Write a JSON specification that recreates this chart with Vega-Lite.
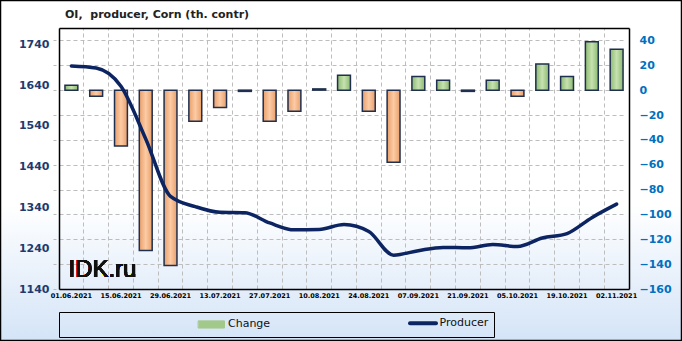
{
  "$schema": "https://vega.github.io/schema/vega-lite/v6.json",
  "width": 682,
  "height": 341,
  "autosize": {"type": "none"},
  "padding": 0,
  "background": "#ffffff",
  "config": {
    "view": {
      "stroke": "#000000",
      "strokeWidth": 2.5,
      "fill": {"gradient": "linear", "x1": 0, "y1": 0, "x2": 0, "y2": 1,
        "stops": [{"offset": 0, "color": "#ffffff"}, {"offset": 0.6, "color": "#ffffff"}, {"offset": 1, "color": "#d4e4f7"}]}
    },
    "font": "DejaVu Sans"
  },
  "title": {
    "text": "OI,\u00a0 producer, Corn (th. contr)",
    "anchor": "start",
    "frame": "group",
    "dx": 65,
    "offset": -20,
    "font": "DejaVu Sans",
    "fontSize": 11,
    "fontWeight": "bold",
    "color": "#222222"
  },
  "data": {
    "values": [
      {"date": "01.06.2021", "Change": 4, "Producer": 1687},
      {"date": "08.06.2021", "Change": -5, "Producer": 1682},
      {"date": "15.06.2021", "Change": -45, "Producer": 1637},
      {"date": "22.06.2021", "Change": -129, "Producer": 1508},
      {"date": "29.06.2021", "Change": -141, "Producer": 1367},
      {"date": "06.07.2021", "Change": -25, "Producer": 1342},
      {"date": "13.07.2021", "Change": -14, "Producer": 1328},
      {"date": "20.07.2021", "Change": -1, "Producer": 1327},
      {"date": "27.07.2021", "Change": -25, "Producer": 1302},
      {"date": "03.08.2021", "Change": -17, "Producer": 1285},
      {"date": "10.08.2021", "Change": 1, "Producer": 1286},
      {"date": "17.08.2021", "Change": 12, "Producer": 1298},
      {"date": "24.08.2021", "Change": -17, "Producer": 1281},
      {"date": "31.08.2021", "Change": -58, "Producer": 1223},
      {"date": "07.09.2021", "Change": 11, "Producer": 1234},
      {"date": "14.09.2021", "Change": 8, "Producer": 1242},
      {"date": "21.09.2021", "Change": -1, "Producer": 1241},
      {"date": "28.09.2021", "Change": 8, "Producer": 1249},
      {"date": "05.10.2021", "Change": -5, "Producer": 1244},
      {"date": "12.10.2021", "Change": 21, "Producer": 1265},
      {"date": "19.10.2021", "Change": 11, "Producer": 1276},
      {"date": "26.10.2021", "Change": 39, "Producer": 1315},
      {"date": "02.11.2021", "Change": 33, "Producer": 1348}
    ]
  },
  "layer": [
    {
      "mark": {"type": "text", "align": "left", "baseline": "alphabetic", "dx": -3, "font": "Liberation Sans", "fontSize": 24, "color": "#111111"},
      "encoding": {
        "x": {"datum": "01.06.2021", "type": "ordinal",
          "scale": {"type": "band", "domain": ["01.06.2021", "08.06.2021", "15.06.2021", "22.06.2021", "29.06.2021", "06.07.2021", "13.07.2021", "20.07.2021", "27.07.2021", "03.08.2021", "10.08.2021", "17.08.2021", "24.08.2021", "31.08.2021", "07.09.2021", "14.09.2021", "21.09.2021", "28.09.2021", "05.10.2021", "12.10.2021", "19.10.2021", "26.10.2021", "02.11.2021"],
            "range": [59, 629], "paddingInner": 0, "paddingOuter": 0},
          "axis": {
            "orient": "top", "offset": -28, "title": null, "labels": false, "ticks": false,
            "domain": true, "domainColor": "#000000", "domainWidth": 1.5,
            "grid": true, "bandPosition": 0, "gridDash": [4, 3], "gridColor": "#bdbdbd", "gridWidth": 1
          }
        },
        "y": {"datum": 1170, "type": "quantitative", "axis": null,
          "scale": {"domain": [1140, 1780], "range": [289, 28], "nice": false, "zero": false}},
        "text": {"value": "IDK.ru"}
      }
    },
    {
      "mark": {"type": "bar", "stroke": "#1f2f4f", "strokeWidth": 1.5},
      "encoding": {
        "x": {
          "field": "date", "type": "ordinal", "sort": null,
          "scale": {"range": [59, 629], "paddingInner": 0.48, "paddingOuter": 0.24},
          "axis": {
            "orient": "bottom", "offset": -52, "title": null,
            "values": ["01.06.2021", "15.06.2021", "29.06.2021", "13.07.2021", "27.07.2021", "10.08.2021", "24.08.2021", "07.09.2021", "21.09.2021", "05.10.2021", "19.10.2021", "02.11.2021"],
            "grid": false, "ticks": false, "domain": true, "domainColor": "#000000", "domainWidth": 1.5,
            "labelAngle": 0, "labelPadding": 3, "labelFont": "DejaVu Sans", "labelFontSize": 6.5,
            "labelFontWeight": "bold", "labelColor": "#000000", "labelOverlap": false
          }
        },
        "y": {
          "field": "Change", "type": "quantitative",
          "scale": {"domain": [-160, 50], "range": [289, 28], "nice": false, "zero": false},
          "axis": {
            "orient": "right", "offset": -53, "title": null,
            "values": [-160, -140, -120, -100, -80, -60, -40, -20, 0, 20, 40],
            "grid": true, "gridDash": [4, 3], "gridColor": "#bdbdbd", "gridWidth": 1,
            "ticks": false, "domain": true, "domainColor": "#000000", "domainWidth": 1.5,
            "labelPadding": 10, "labelFont": "DejaVu Sans", "labelFontSize": 11,
            "labelFontWeight": "bold", "labelColor": "#0070c0"
          }
        },
        "fill": {
          "condition": {
            "test": "datum.Change < 0",
            "value": {"gradient": "linear", "x1": 0, "y1": 0, "x2": 1, "y2": 0,
              "stops": [{"offset": 0, "color": "#e99f6a"}, {"offset": 0.5, "color": "#fccba5"}, {"offset": 1, "color": "#e99f6a"}]}
          },
          "value": {"gradient": "linear", "x1": 0, "y1": 0, "x2": 1, "y2": 0,
            "stops": [{"offset": 0, "color": "#8dba6f"}, {"offset": 0.5, "color": "#c6e2b1"}, {"offset": 1, "color": "#8dba6f"}]}
        }
      }
    },
    {
      "mark": {"type": "line", "interpolate": "monotone", "strokeWidth": 3.5, "strokeCap": "round"},
      "encoding": {
        "x": {
          "field": "date", "type": "ordinal", "sort": null,
          "scale": {"type": "point", "range": [59, 629], "padding": 0.5},
          "axis": null
        },
        "y": {
          "field": "Producer", "type": "quantitative",
          "scale": {"domain": [1140, 1780], "range": [289, 28], "nice": false, "zero": false},
          "axis": {
            "orient": "left", "offset": -59, "title": null, "format": "d",
            "values": [1140, 1240, 1340, 1440, 1540, 1640, 1740],
            "grid": false, "ticks": false, "domain": true, "domainColor": "#000000", "domainWidth": 1.5,
            "labelPadding": 10, "labelFont": "DejaVu Sans", "labelFontSize": 11,
            "labelFontWeight": "bold", "labelColor": "#1f3a6e"
          }
        },
        "color": {
          "datum": "Producer", "type": "nominal",
          "scale": {"domain": ["Change", "Producer"], "range": ["#a3c98a", "#0c2461"]},
          "legend": {
            "title": null,
            "orient": "none", "legendX": 59, "legendY": 312,
            "direction": "horizontal",
            "strokeColor": "#000000", "padding": 5.5, "fillColor": null,
            "symbolSize": 169, "symbolOffset": 141.5, "labelOffset": 11, "columnPadding": 5.5,
            "labelFont": "DejaVu Sans", "labelFontSize": 11, "labelColor": "#111111",
            "labelExpr": "datum.label == 'Producer' ? 'Producer\u2003\u2003\u2003\u2003\u2003\u2003\u2003\u2003\u2003\u2003\u2003\u2003' : datum.label",
            "encode": {
              "symbols": {
                "update": {
                  "shape": {"signal": "datum.value === 'Change' ? 'M-2,-0.55H2V0.55H-2Z' : 'M-2,0H2'"},
                  "fill": {"signal": "datum.value === 'Change' ? '#a3c98a' : 'transparent'"},
                  "stroke": {"signal": "datum.value === 'Change' ? '#4a5668' : '#0c2461'"},
                  "strokeWidth": {"signal": "datum.value === 'Change' ? 1 : 4"},
                  "strokeCap": {"value": "round"},
                  "opacity": {"value": 1}
                }
              }
            }
          }
        }
      }
    }
  ],
  "resolve": {"scale": {"x": "independent", "y": "independent"}, "axis": {"x": "independent", "y": "independent"}}
}
